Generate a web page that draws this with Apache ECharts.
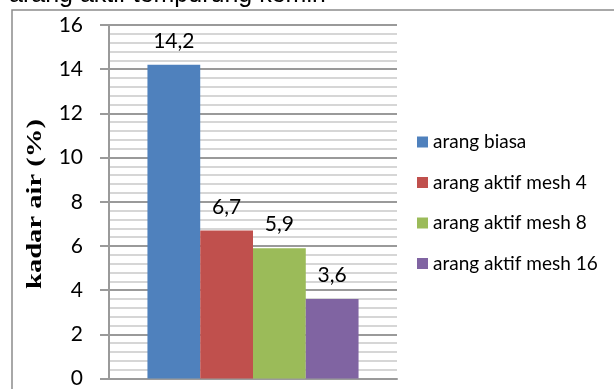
<!DOCTYPE html>
<html>
<head>
<meta charset="utf-8">
<script src="https://cdn.jsdelivr.net/npm/echarts@6/dist/echarts.min.js"></script>
<style>
  html, body { margin: 0; padding: 0; background: #fff; }
  #chart { width: 614px; height: 389px; }
</style>
</head>
<body>
<div id="chart"></div>
<script>
const titleText = 'arang aktif tempurung kemiri';
const yAxisName = 'kadar air (%)';
const categories = [''];
const seriesNames = ['arang biasa', 'arang aktif mesh 4', 'arang aktif mesh 8', 'arang aktif mesh 16'];
const seriesValues = [14.2, 6.7, 5.9, 3.6];
const seriesColors = ['#4F81BD', '#C0504D', '#9BBB59', '#8064A2'];

const chart = echarts.init(document.getElementById('chart'));

const gridColor = '#9a9a9a';
const minorColor = '#c9c9c9';

const option = {
  animation: false,
  graphic: [
    {
      type: 'rect',
      shape: { x: 12, y: 10, width: 700, height: 500 },
      style: { fill: 'none', stroke: '#8c8c8c', lineWidth: 1.5 }
    },
    {
      type: 'text',
      left: 9,
      top: -17,
      style: {
        text: titleText,
        font: '25px "Liberation Sans", Arial, sans-serif',
        fill: '#000'
      }
    },
    {
      // axis title, stretched along its length like the original
      type: 'text',
      x: 35,
      y: 204,
      rotation: Math.PI / 2,
      scaleX: 1.3,
      style: {
        text: yAxisName,
        font: 'bold 22px "Liberation Serif", "Times New Roman", serif',
        fill: '#000',
        align: 'center',
        verticalAlign: 'middle'
      }
    }
  ],
  grid: {
    left: 109,
    right: 217,
    top: 25,
    bottom: 10,
    containLabel: false
  },
  legend: {
    orient: 'vertical',
    left: 412,
    top: 127,
    itemWidth: 11,
    itemHeight: 11,
    itemGap: 20.5,
    icon: 'rect',
    textStyle: {
      fontFamily: 'Lato',
      fontSize: 19,
      lineHeight: 20,
      color: '#000'
    },
    data: seriesNames
  },
  xAxis: {
    type: 'category',
    data: categories,
    axisLine: { show: true, lineStyle: { color: gridColor, width: 2 } },
    axisTick: { show: false },
    axisLabel: { show: false }
  },
  yAxis: {
    type: 'value',
    min: 0,
    max: 16,
    interval: 2,
    axisLine: { show: true, lineStyle: { color: gridColor, width: 2 } },
    axisTick: { show: true, length: 9, lineStyle: { color: gridColor, width: 2 } },
    axisLabel: {
      margin: 26,
      fontFamily: 'Lato',
      fontSize: 21,
      color: '#000'
    },
    splitLine: { show: true, lineStyle: { color: gridColor, width: 2 } },
    minorTick: { show: false, splitNumber: 5 },
    minorSplitLine: { show: true, lineStyle: { color: minorColor, width: 1.5 } }
  },
  series: seriesNames.map((name, i) => ({
    name: name,
    type: 'bar',
    data: [seriesValues[i]],
    barGap: '0%',
    barCategoryGap: '26.7%',
    itemStyle: { color: seriesColors[i] },
    label: {
      show: true,
      position: 'top',
      distance: 13,
      fontFamily: 'Lato',
      fontSize: 21,
      color: '#000',
      formatter: p => String(p.value).replace('.', ',')
    }
  }))
};

chart.setOption(option);
</script>
</body>
</html>
